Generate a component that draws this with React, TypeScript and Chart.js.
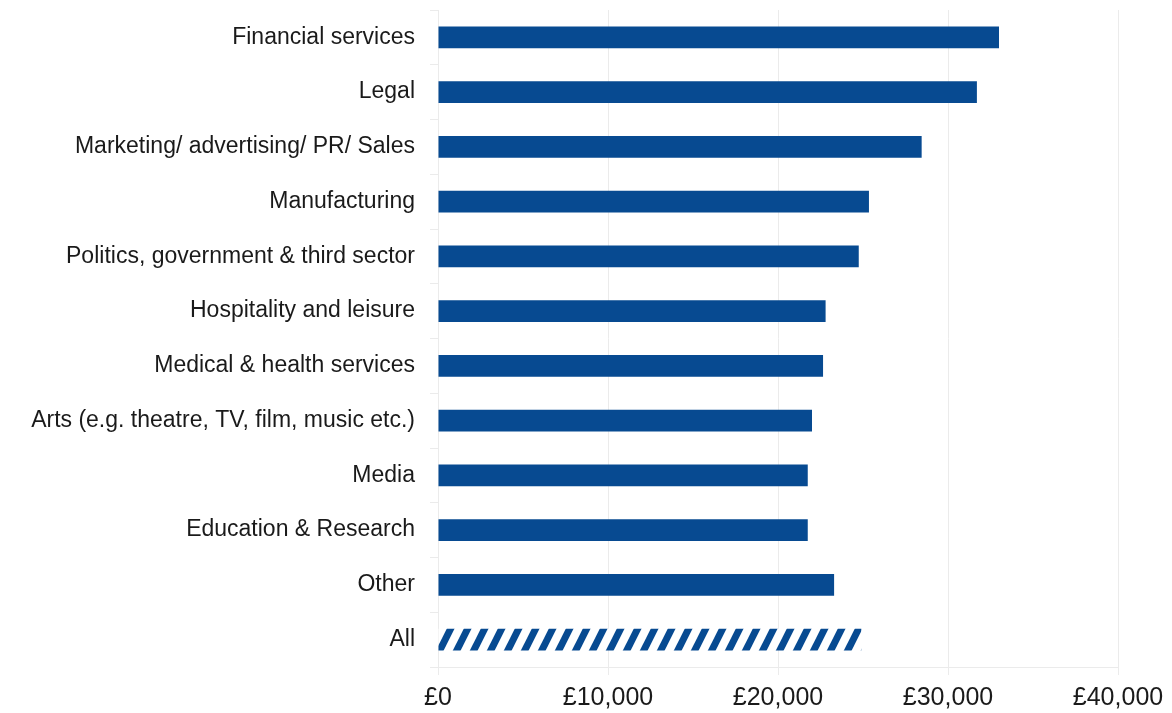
import React, { useEffect, useRef } from "react";
import { Chart, registerables } from "chart.js";

Chart.register(...registerables);

const categories = [
  "Financial services",
  "Legal",
  "Marketing/ advertising/ PR/ Sales",
  "Manufacturing",
  "Politics, government & third sector",
  "Hospitality and leisure",
  "Medical & health services",
  "Arts (e.g. theatre, TV, film, music etc.)",
  "Media",
  "Education & Research",
  "Other",
  "All",
];
const salaries = [33000, 31700, 28450, 25350, 24750, 22800, 22650, 22000, 21750, 21750, 23300, 24900];
const xTicks = [0, 10000, 20000, 30000, 40000];

const BLUE = "#074a91";
const GRID = "#ebebeb";
const FONT = "'Liberation Sans', Arial, sans-serif";

function makeHatch(ctx: CanvasRenderingContext2D): CanvasPattern | string {
  const W = 17;
  const H = 34;
  const c = document.createElement("canvas");
  c.width = W;
  c.height = H;
  const g = c.getContext("2d");
  if (!g) return BLUE;
  g.fillStyle = "#ffffff";
  g.fillRect(0, 0, W, H);
  g.strokeStyle = BLUE;
  g.lineWidth = 7;
  for (const off of [-W, 0, W]) {
    g.beginPath();
    g.moveTo(off - W / 2, H * 1.5);
    g.lineTo(off + W * 1.5, -H / 2);
    g.stroke();
  }
  return ctx.createPattern(c, "repeat") || BLUE;
}

export default function App() {
  const ref = useRef<HTMLCanvasElement | null>(null);
  useEffect(() => {
    document.body.style.margin = "0";
    const canvas = ref.current;
    if (!canvas) return;
    const ctx = canvas.getContext("2d")!;
    const hatch = makeHatch(ctx);
    const colors = categories.map((c) => (c === "All" ? hatch : BLUE));
    const chart = new Chart(canvas, {
      type: "bar",
      data: {
        labels: categories,
        datasets: [
          {
            data: salaries,
            backgroundColor: colors as any,
            borderWidth: 0,
            barPercentage: 0.8,
            categoryPercentage: 0.5,
          },
        ],
      },
      options: {
        indexAxis: "y",
        animation: false,
        responsive: false,
        maintainAspectRatio: false,
        layout: { padding: { top: 10, right: 54, left: 0, bottom: 0 } },
        plugins: { legend: { display: false }, tooltip: { enabled: false } },
        scales: {
          x: {
            min: 0,
            max: 40000,
            afterBuildTicks: (s: any) => {
              s.ticks = xTicks.map((v) => ({ value: v }));
            },
            afterFit: (s: any) => {
              s.height = 46;
              s.paddingLeft = 0;
              s.paddingRight = 0;
            },
            grid: { color: GRID, lineWidth: 1, tickLength: 8, drawTicks: true },
            border: { display: false },
            ticks: {
              color: "#1a1a1a",
              padding: 8,
              maxRotation: 0,
              font: { family: FONT, size: 25 },
              callback: (v: any) => "£" + Number(v).toLocaleString("en-GB"),
            },
          },
          y: {
            afterFit: (s: any) => {
              s.width = 438;
              s.paddingTop = 0;
              s.paddingBottom = 0;
            },
            grid: { color: GRID, lineWidth: 1, tickLength: 8, drawOnChartArea: false, drawTicks: true },
            border: { display: true, color: GRID },
            ticks: {
              color: "#1a1a1a",
              padding: 15,
              font: { family: FONT, size: 23 },
            },
          },
        },
      },
      plugins: [
        {
          id: "bottomLine",
          afterDraw: (ch: any) => {
            const { ctx: c, chartArea } = ch;
            c.save();
            c.strokeStyle = GRID;
            c.lineWidth = 1;
            c.beginPath();
            c.moveTo(chartArea.left - 8, chartArea.bottom + 0.5);
            c.lineTo(chartArea.right, chartArea.bottom + 0.5);
            c.stroke();
            c.restore();
          },
        },
      ],
    });
    return () => chart.destroy();
  }, []);
  return (
    <div style={{ width: 1172, height: 713 }}>
      <canvas ref={ref} width={1172} height={713} style={{ display: "block" }} />
    </div>
  );
}
